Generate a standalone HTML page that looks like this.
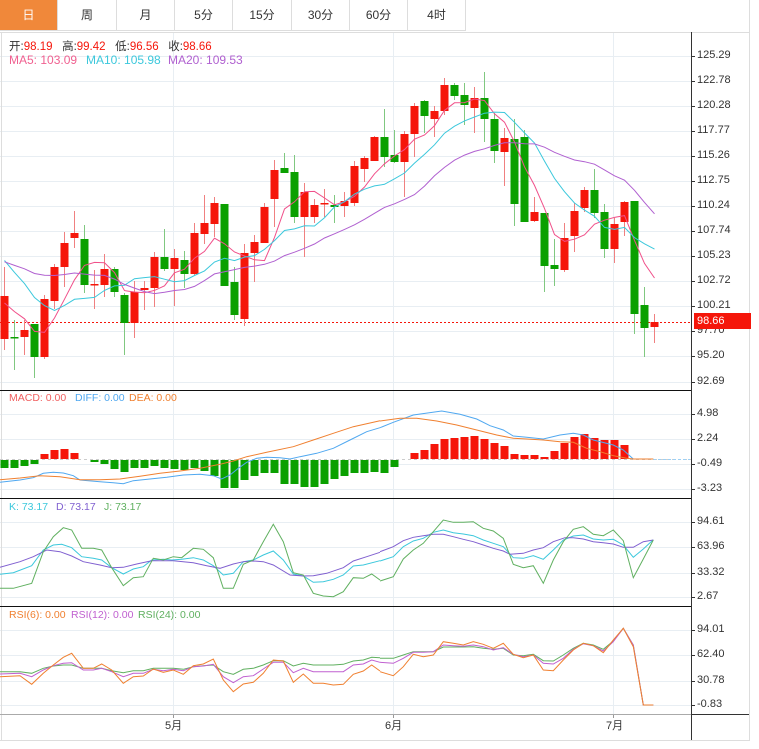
<!DOCTYPE html>
<html><head><meta charset="utf-8"><style>
html,body{margin:0;padding:0;background:#fff;}
body{width:759px;height:749px;position:relative;overflow:hidden;font-family:"Liberation Sans","Noto Sans CJK SC",sans-serif;}
.tab{position:absolute;top:0;height:31px;line-height:31px;text-align:center;font-size:12px;color:#333;border-right:1px solid #ddd;border-bottom:1px solid #ddd;box-sizing:border-box;background:#fff}
.t{position:absolute;font-size:11.5px;white-space:nowrap}
.s{font-size:10.5px}
.ax{position:absolute;left:697px;font-size:11px;color:#333}
</style></head><body>
<div class="tab" style="left:0;width:58px;background:#f0883a;color:#fff">日</div>
<div class="tab" style="left:58px;width:59px">周</div>
<div class="tab" style="left:117px;width:58px">月</div>
<div class="tab" style="left:175px;width:58px">5分</div>
<div class="tab" style="left:233px;width:59px">15分</div>
<div class="tab" style="left:292px;width:58px">30分</div>
<div class="tab" style="left:350px;width:58px">60分</div>
<div class="tab" style="left:408px;width:58px">4时</div>
<svg id="s" width="759" height="749" style="position:absolute;left:0;top:0"></svg>
<div class="t" style="left:9px;top:38px;color:#333">开:<span style="color:#f5160a">98.19</span>&nbsp;&nbsp; 高:<span style="color:#f5160a">99.42</span>&nbsp;&nbsp; 低:<span style="color:#f5160a">96.56</span>&nbsp;&nbsp; 收:<span style="color:#f5160a">98.66</span></div>
<div class="t" style="left:9px;top:53px;font-size:12px;color:#f06090">MA5: 103.09</div>
<div class="t" style="left:86px;top:53px;font-size:12px;color:#3cc8dc">MA10: 105.98</div>
<div class="t" style="left:168px;top:53px;font-size:12px;color:#b060d0">MA20: 109.53</div>
<div class="t s" style="left:9px;top:392px;color:#f06060">MACD: 0.00</div>
<div class="t s" style="left:75px;top:392px;color:#50a8f0">DIFF: 0.00</div>
<div class="t s" style="left:129px;top:392px;color:#f08030">DEA: 0.00</div>
<div class="t s" style="left:9px;top:501px;color:#3cc8dc">K: 73.17</div>
<div class="t s" style="left:56px;top:501px;color:#8060d0">D: 73.17</div>
<div class="t s" style="left:104px;top:501px;color:#60b060">J: 73.17</div>
<div class="t s" style="left:9px;top:609px;color:#f08030">RSI(6): 0.00</div>
<div class="t s" style="left:71px;top:609px;color:#c060d0">RSI(12): 0.00</div>
<div class="t s" style="left:138px;top:609px;color:#60b060">RSI(24): 0.00</div>
<div class="ax" style="top:49px">125.29</div><div class="ax" style="top:74px">122.78</div><div class="ax" style="top:99px">120.28</div><div class="ax" style="top:124px">117.77</div><div class="ax" style="top:149px">115.26</div><div class="ax" style="top:174px">112.75</div><div class="ax" style="top:199px">110.24</div><div class="ax" style="top:224px">107.74</div><div class="ax" style="top:249px">105.23</div><div class="ax" style="top:274px">102.72</div><div class="ax" style="top:299px">100.21</div><div class="ax" style="top:324px">97.70</div><div class="ax" style="top:349px">95.20</div><div class="ax" style="top:375px">92.69</div>
<div style="position:absolute;left:694px;top:313px;width:57px;height:16px;background:#f5160a;color:#fff;font-size:11px;line-height:16px;padding-left:3px;box-sizing:border-box">98.66</div>
<div class="ax" style="top:407px">4.98</div><div class="ax" style="top:432px">2.24</div><div class="ax" style="top:457px">-0.49</div><div class="ax" style="top:482px">-3.23</div>
<div class="ax" style="top:515px">94.61</div><div class="ax" style="top:540px">63.96</div><div class="ax" style="top:566px">33.32</div><div class="ax" style="top:590px">2.67</div>
<div class="ax" style="top:623px">94.01</div><div class="ax" style="top:648px">62.40</div><div class="ax" style="top:674px">30.78</div><div class="ax" style="top:698px">-0.83</div>
<div class="t" style="left:165px;top:717px;font-size:11px;color:#333">5月</div>
<div class="t" style="left:385px;top:717px;font-size:11px;color:#333">6月</div>
<div class="t" style="left:606px;top:717px;font-size:11px;color:#333">7月</div>
<script>
var s=document.getElementById('s'),h='';
function L(x1,y1,x2,y2,c,w,d){h+='<line x1="'+x1+'" y1="'+y1+'" x2="'+x2+'" y2="'+y2+'" stroke="'+c+'" stroke-width="'+(w||1)+'"'+(d?' stroke-dasharray="'+d+'"':'')+'/>';}
function R(x,y,w,hh,c){h+='<rect x="'+x+'" y="'+y+'" width="'+w+'" height="'+hh+'" fill="'+c+'"/>';}
function P(pts,c,ox,oy){var a=[];for(var i=0;i<pts.length;i+=2)a.push((ox+pts[i]/3).toFixed(1)+','+(oy+pts[i+1]/3).toFixed(1));h+='<polyline points="'+a.join(' ')+'" fill="none" stroke="'+c+'" stroke-width="1"/>';}
var G='#e8eef3';
[56,81,106,131,156,181,206,231,256,281,306,331,356,382].forEach(function(y){L(0,y+.5,691,y+.5,G);L(691,y+.5,695,y+.5,'#333');});
[414,439,464,489,522,547,573,597,630,655,681,705].forEach(function(y){L(0,y+.5,691,y+.5,G);L(691,y+.5,695,y+.5,'#333');});
[173.5,393.5,613.5].forEach(function(x){L(x,32,x,714,G);L(x,714,x,718,'#999');});
L(0,32.5,749,32.5,'#ddd');L(1.5,32,1.5,740,'#ddd');L(749.5,0,749.5,740,'#ddd');L(0,740.5,750,740.5,'#ddd');
L(0,390.5,691,390.5,'#111');L(0,498.5,691,498.5,'#111');L(0,606.5,691,606.5,'#111');
L(0,714.5,691,714.5,'#aaa');L(691,714.5,749,714.5,'#333');L(691.5,32,691.5,740,'#333');
L(0,322.5,691,322.5,'#f5160a',1,'2,2');
var D=[[296,339,267,350],[337,337,320,370],[337,330,320,355],[324,357,324,378],[357,299,295,359],[301,267,264,309],[267,243,232,287],[238,233,211,248],[239,285,225,293],[284,284,270,309],[285,269,254,297],[269,292,267,297],[295,323,293,355],[323,292,281,338],[290,288,281,310],[288,257,252,307],[257,269,229,271],[269,258,249,306],[260,274,251,288],[274,233,223,275],[234,223,195,244],[224,203,197,237],[204,286,204,286],[282,315,267,320],[319,253,244,326],[253,242,235,282],[243,207,203,243],[199,170,160,227],[168,173,153,173],[172,217,155,223],[217,192,183,257],[217,205,199,223],[203,203,189,217],[205,207,195,223],[206,201,192,217],[203,166,161,206],[169,158,156,182],[161,137,136,161],[137,157,109,167],[155,162,130,163],[162,134,131,197],[134,106,103,157],[101,116,100,133],[119,111,106,137],[111,85,78,115],[85,96,83,100],[95,105,83,125],[108,98,87,133],[98,119,72,142],[119,151,113,163],[152,138,128,186],[139,204,119,226],[137,222,130,222],[221,212,197,222],[213,266,213,292],[265,269,239,286],[270,238,223,272],[236,211,203,252],[208,190,187,212],[190,213,169,218],[212,249,204,258],[249,224,218,263],[222,202,201,236],[201,314,201,334],[305,328,287,357],[327,322,314,343]];
var up=[1,0,1,0,1,1,1,1,0,1,1,0,0,1,1,1,0,1,0,1,1,1,0,0,1,1,1,1,0,0,1,1,1,0,1,1,1,1,0,0,1,1,0,1,1,0,0,1,0,0,1,0,0,1,0,0,1,1,1,0,0,1,1,0,0,1];
D.forEach(function(d,i){var x=4.5+10*i,c=up[i]?'#f5160a':'#0aa000',wc=up[i]?'#f08080':'#80c880';L(x,d[2],x,d[3],wc);var t=Math.min(d[0],d[1]),b=Math.max(d[0],d[1]);R(x-4,t,8,Math.max(b-t,1.5),c);});
var cl=[263,263,263,263,263,263,263,263,263,263,218,218,218,218,218,294,294,294,294];D.forEach(function(d){cl.push(d[1]);});
function ma(n,c){var a=[];for(var i=0;i<D.length;i++){var j=i+19,sm=0;for(var k=0;k<n;k++)sm+=cl[j-k];a.push((4.5+10*i)+','+(sm/n).toFixed(1));}h+='<polyline points="'+a.join(' ')+'" fill="none" stroke="'+c+'" stroke-width="1"/>';}
ma(5,'#f0508a');ma(10,'#3cc8dc');ma(20,'#b060d0');
var M=[468,468,466,464,454,450,449,453,460,462,464,469,472,468,468,466,468,469,470,468,471,476,488,488,480,476,473,473,484,484,487,487,484,479,476,473,473,472,473,467,459,453,450,444,439,438,437,436,439,443,446,454,455,455,457,451,443,437,434,438,440,440,445,459,459,459];
L(0,459.5,691,459.5,'#ccc',1,'3,3');
M.forEach(function(y,i){var x=4.5+10*i;if(Math.abs(y-459)<1)return;if(y<459)R(x-4,y,8,459-y,'#f5160a');else R(x-4,460,8,y-460,'#0aa000');});
P([0,292,60,285,100,278,130,265,160,262,190,264,220,272,240,285,300,290,340,293,370,296,400,287,450,282,500,277,550,270,600,268,640,272,665,282,690,270,715,250,740,232,770,220,800,217,840,218,870,222,900,215,950,205,1000,190,1050,165,1100,140,1140,128],'#50a8f0',0,385);
P([0,128,40,112,100,90,185,78,240,88,290,102,330,122,370,135,400,153,440,157,490,162,540,150,580,145,610,150,640,165,700,180,730,195,760,222,820,222],'#50a8f0',380,385);
L(653,459.5,690,459.5,'#9cd0f5',1,'3,2');
P([0,284,60,279,120,272,180,275,240,284,300,284,360,282,420,274,480,265,540,258,600,250,660,238,700,228,740,215,800,202,880,185,940,165,1000,145,1060,125,1140,107],'#f08030',0,385);
P([0,108,60,100,110,100,170,108,230,120,290,135,350,150,400,160,440,162,490,165,540,170,580,172,620,190,660,200,700,212,740,220,760,222,820,222],'#f08030',380,385);
P([0,238,40,233,95,212,130,165,160,150,185,148,215,158,245,185,280,190,305,195,335,218,370,237,400,222,430,215,455,195,490,193,515,195,545,193,580,188,610,195,640,212,670,240,700,235,730,200,760,195,790,180,820,168,850,195,880,237,910,243,940,262,970,260,1000,253,1030,240,1060,213,1090,210,1140,197],'#3cc8dc',0,495);
P([0,198,40,185,70,155,100,138,130,130,160,112,190,105,220,113,250,117,280,122,310,135,340,145,370,155,400,188,430,190,460,182,490,193,520,165,550,135,580,123,610,120,640,132,670,135,700,133,730,150,760,187,790,162,820,134],'#3cc8dc',380,495);
P([0,217,60,200,100,185,140,165,180,170,215,183,250,200,300,210,335,218,370,217,410,207,455,197,490,197,520,197,550,200,580,203,620,212,660,220,700,207,730,200,760,198,790,200,820,210,870,240,910,243,940,242,980,235,1030,218,1060,198,1100,185,1140,172],'#8060d0',0,495);
P([0,170,40,155,70,137,100,127,130,122,160,118,190,118,220,125,250,133,280,140,310,150,340,160,370,168,390,178,430,175,460,165,490,158,520,140,555,128,580,128,610,132,640,140,670,143,700,147,730,157,760,157,790,140,820,135],'#8060d0',380,495);
P([0,280,40,280,95,265,130,170,160,125,190,98,215,105,245,160,280,160,305,165,335,218,370,272,400,248,430,245,460,190,490,195,520,185,545,188,580,160,610,163,640,188,670,280,700,280,730,208,760,195,790,140,820,88,850,140,880,233,910,240,940,295,970,303,1000,305,1030,290,1060,248,1090,250,1115,237,1140,255],'#60b060',0,495);
P([0,258,40,245,70,192,100,165,130,145,160,110,190,75,220,82,250,82,280,80,310,100,340,108,370,130,400,208,430,218,460,212,490,265,520,195,550,140,580,103,610,95,640,118,670,122,700,105,730,137,760,248,790,192,820,135],'#60b060',380,495);
P([0,200,60,200,95,205,130,190,160,183,190,180,215,180,250,190,280,190,305,190,335,197,370,203,400,197,430,197,460,190,490,190,520,190,550,193,580,185,610,182,640,180,670,200,700,208,730,193,760,190,790,180,820,167,850,167,880,183,910,175,940,180,970,180,1000,180,1030,178,1060,168,1090,165,1115,157,1140,158],'#60b060',0,605);
P([0,160,40,160,70,150,100,140,130,140,160,140,190,126,220,126,250,126,280,125,310,130,340,133,370,130,400,150,430,152,460,148,490,167,520,168,550,150,580,130,610,115,640,120,670,133,700,108,730,70,760,120,790,300,820,300],'#60b060',380,605);
P([0,207,60,205,95,215,130,195,160,182,190,175,215,173,250,195,280,195,305,190,335,200,370,215,400,205,430,205,460,193,490,197,520,193,550,197,580,185,610,183,640,178,670,215,700,233,730,215,760,212,790,192,820,172,850,172,880,203,910,190,940,200,970,200,1000,200,1030,200,1060,180,1090,177,1115,165,1140,172],'#c060d0',0,605);
P([0,172,40,175,70,160,100,142,130,142,160,140,190,120,220,122,250,124,280,120,310,125,340,135,370,128,400,148,430,155,460,150,490,175,520,177,550,160,580,133,610,116,640,122,670,138,700,110,730,70,760,120,790,300,820,300],'#c060d0',380,605);
P([0,215,60,212,95,238,130,205,160,180,190,157,215,145,250,190,280,190,305,177,335,195,370,235,400,215,430,213,460,192,490,202,520,195,550,208,580,182,610,177,640,162,670,225,700,260,730,237,760,232,790,205,820,165,850,168,880,232,910,207,940,235,970,235,1000,240,1030,238,1060,208,1090,198,1115,180,1140,198],'#f08030',0,605);
P([0,200,40,212,70,185,100,148,130,155,160,150,190,110,220,115,250,120,280,110,310,118,340,130,370,115,400,148,430,158,460,150,490,195,520,197,550,165,580,135,610,115,640,122,670,143,700,105,730,70,760,125,790,300,820,300],'#f08030',380,605);
s.innerHTML=h;
</script>
</body></html>
